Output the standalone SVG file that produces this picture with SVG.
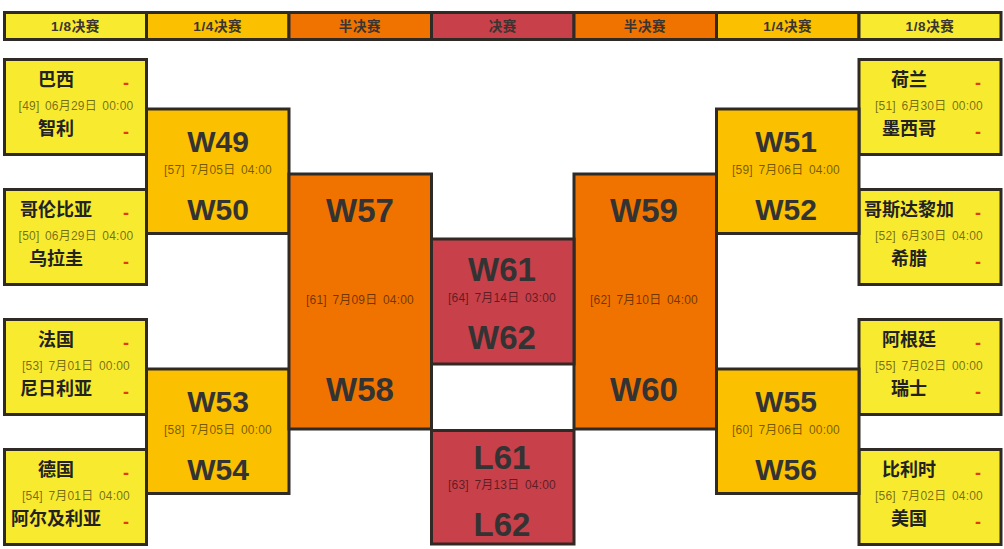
<svg xmlns="http://www.w3.org/2000/svg" width="1004" height="549" viewBox="0 0 1004 549">
<style>
.b{stroke:#2f2a25;stroke-width:3}
.y{fill:#f8ea2f}.a{fill:#fbc000}.o{fill:#f07300}.r{fill:#c7404a}
.h{font-family:"Liberation Sans","Noto Sans CJK SC",sans-serif;font-size:13.5px;font-weight:bold;fill:#3a3530;text-anchor:middle;letter-spacing:0.6px}
.t{font-family:"Noto Sans CJK SC",sans-serif;font-size:18px;font-weight:bold;fill:#222;text-anchor:middle}
.d{font-family:"Liberation Sans","Noto Sans CJK SC",sans-serif;font-size:18px;font-weight:bold;fill:#e33a10;text-anchor:middle}
.s{font-family:"Liberation Sans","Noto Sans CJK SC",sans-serif;font-size:12px;fill:#000;fill-opacity:0.55;text-anchor:middle;letter-spacing:0.2px;word-spacing:2px}
.w{font-family:"Liberation Sans",Arial,sans-serif;font-weight:bold;fill:#333;text-anchor:middle}
.w30{font-size:30px}.w33{font-size:33px}
</style>
<rect width="1004" height="549" fill="#fff"/>
<g id="header">
<rect class="b y" x="4.5" y="12.5" width="142" height="27"/>
<rect class="b a" x="146.5" y="12.5" width="142.5" height="27"/>
<rect class="b o" x="289" y="12.5" width="142.5" height="27"/>
<rect class="b r" x="431.5" y="12.5" width="142.5" height="27"/>
<rect class="b o" x="574" y="12.5" width="142.5" height="27"/>
<rect class="b a" x="716.5" y="12.5" width="142.5" height="27"/>
<rect class="b y" x="859" y="12.5" width="142" height="27"/>
<text class="h" x="75.5" y="31">1/8决赛</text>
<text class="h" x="217.75" y="31">1/4决赛</text>
<text class="h" x="360" y="31">半决赛</text>
<text class="h" x="502.75" y="31">决赛</text>
<text class="h" x="645" y="31">半决赛</text>
<text class="h" x="787.75" y="31">1/4决赛</text>
<text class="h" x="930" y="31">1/8决赛</text>
</g>
<g id="connectors"></g>
<g id="m49">
<rect class="b y" x="4.5" y="59.5" width="142" height="95"/>
<text class="t" x="56" y="86">巴西</text><text class="d" x="126" y="89">-</text>
<text class="s" x="76" y="110">[49] 06月29日 00:00</text>
<text class="t" x="56" y="135">智利</text><text class="d" x="126" y="138">-</text>
</g>
<g id="m50">
<rect class="b y" x="4.5" y="189.5" width="142" height="95"/>
<text class="t" x="56" y="216">哥伦比亚</text><text class="d" x="126" y="219">-</text>
<text class="s" x="76" y="240">[50] 06月29日 04:00</text>
<text class="t" x="56" y="265">乌拉圭</text><text class="d" x="126" y="268">-</text>
</g>
<g id="m53">
<rect class="b y" x="4.5" y="319.5" width="142" height="95"/>
<text class="t" x="56" y="346">法国</text><text class="d" x="126" y="349">-</text>
<text class="s" x="76" y="370">[53] 7月01日 00:00</text>
<text class="t" x="56" y="395">尼日利亚</text><text class="d" x="126" y="398">-</text>
</g>
<g id="m54">
<rect class="b y" x="4.5" y="449.5" width="142" height="95"/>
<text class="t" x="56" y="476">德国</text><text class="d" x="126" y="479">-</text>
<text class="s" x="76" y="500">[54] 7月01日 04:00</text>
<text class="t" x="56" y="525">阿尔及利亚</text><text class="d" x="126" y="528">-</text>
</g>
<g id="m51">
<rect class="b y" x="859" y="59.5" width="142" height="95"/>
<text class="t" x="909" y="86">荷兰</text><text class="d" x="978" y="89">-</text>
<text class="s" x="929" y="110">[51] 6月30日 00:00</text>
<text class="t" x="909" y="135">墨西哥</text><text class="d" x="978" y="138">-</text>
</g>
<g id="m52">
<rect class="b y" x="859" y="189.5" width="142" height="95"/>
<text class="t" x="909" y="216">哥斯达黎加</text><text class="d" x="978" y="219">-</text>
<text class="s" x="929" y="240">[52] 6月30日 04:00</text>
<text class="t" x="909" y="265">希腊</text><text class="d" x="978" y="268">-</text>
</g>
<g id="m55">
<rect class="b y" x="859" y="319.5" width="142" height="95"/>
<text class="t" x="909" y="346">阿根廷</text><text class="d" x="978" y="349">-</text>
<text class="s" x="929" y="370">[55] 7月02日 00:00</text>
<text class="t" x="909" y="395">瑞士</text><text class="d" x="978" y="398">-</text>
</g>
<g id="m56">
<rect class="b y" x="859" y="449.5" width="142" height="95"/>
<text class="t" x="909" y="476">比利时</text><text class="d" x="978" y="479">-</text>
<text class="s" x="929" y="500">[56] 7月02日 04:00</text>
<text class="t" x="909" y="525">美国</text><text class="d" x="978" y="528">-</text>
</g>
<g id="m57">
<rect class="b a" x="146.5" y="109" width="142.5" height="124.5"/>
<text class="w w30" x="218" y="152">W49</text>
<text class="s" x="218" y="174">[57] 7月05日 04:00</text>
<text class="w w30" x="218" y="219.5">W50</text>
</g>
<g id="m58">
<rect class="b a" x="146.5" y="369" width="142.5" height="124.5"/>
<text class="w w30" x="218" y="412">W53</text>
<text class="s" x="218" y="434">[58] 7月05日 00:00</text>
<text class="w w30" x="218" y="480">W54</text>
</g>
<g id="m59">
<rect class="b a" x="716.5" y="109" width="142.5" height="124.5"/>
<text class="w w30" x="786" y="152">W51</text>
<text class="s" x="786" y="174">[59] 7月06日 04:00</text>
<text class="w w30" x="786" y="219.5">W52</text>
</g>
<g id="m60">
<rect class="b a" x="716.5" y="369" width="142.5" height="124.5"/>
<text class="w w30" x="786" y="412">W55</text>
<text class="s" x="786" y="434">[60] 7月06日 00:00</text>
<text class="w w30" x="786" y="480">W56</text>
</g>
<g id="m61">
<rect class="b o" x="289" y="174" width="142.5" height="255"/>
<text class="w w33" x="360" y="222">W57</text>
<text class="s" x="360" y="304">[61] 7月09日 04:00</text>
<text class="w w33" x="360" y="401">W58</text>
</g>
<g id="m62">
<rect class="b o" x="574" y="174" width="142.5" height="255"/>
<text class="w w33" x="644" y="222">W59</text>
<text class="s" x="644" y="304">[62] 7月10日 04:00</text>
<text class="w w33" x="644" y="401">W60</text>
</g>
<g id="m64">
<rect class="b r" x="431.5" y="239" width="142.5" height="125"/>
<text class="w w33" x="502" y="281">W61</text>
<text class="s" x="502" y="302">[64] 7月14日 03:00</text>
<text class="w w33" x="502" y="349">W62</text>
</g>
<g id="m63">
<rect class="b r" x="431.5" y="430.5" width="142.5" height="113.5"/>
<text class="w w33" x="502" y="469">L61</text>
<text class="s" x="502" y="489">[63] 7月13日 04:00</text>
<text class="w w33" x="502" y="536">L62</text>
</g>
</svg>
